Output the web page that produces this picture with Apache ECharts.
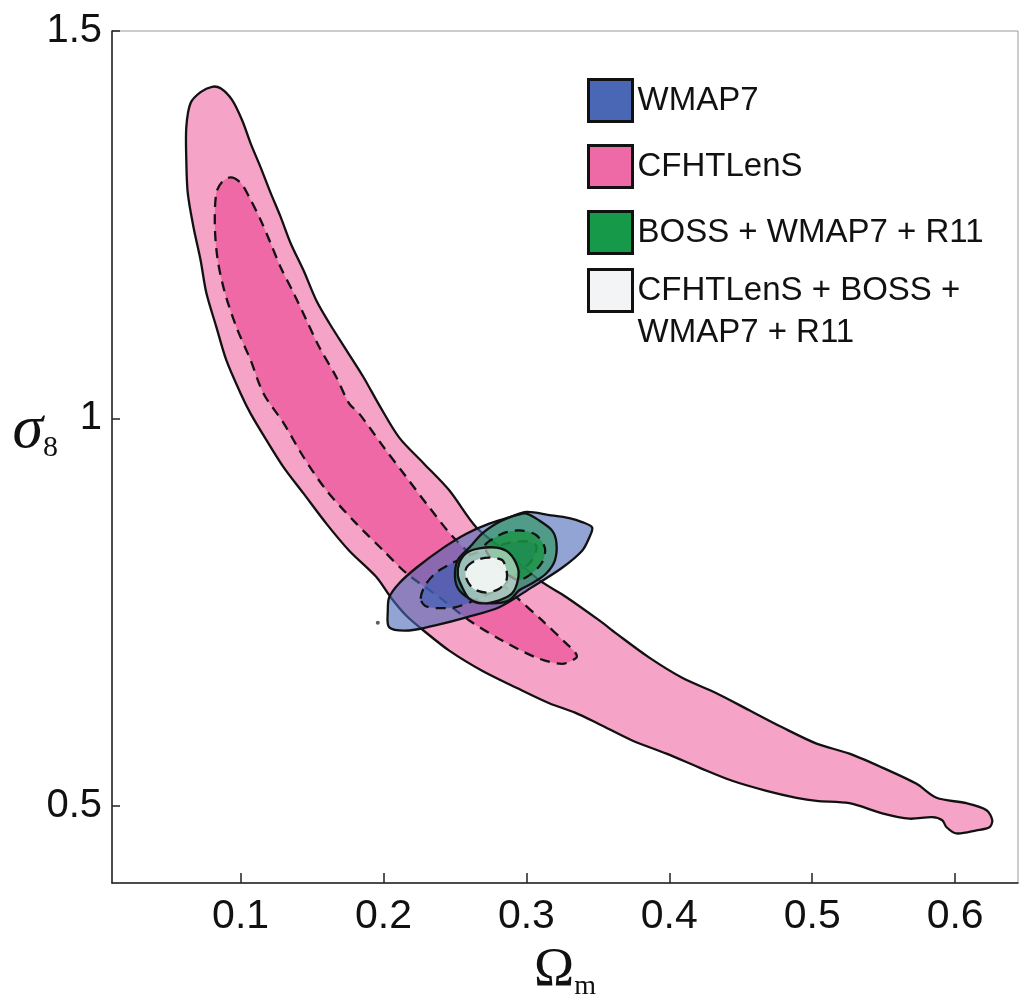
<!DOCTYPE html>
<html>
<head>
<meta charset="utf-8">
<script src="https://cdn.jsdelivr.net/npm/echarts@6/dist/echarts.min.js"></script>
<style>
  html, body { margin: 0; padding: 0; background: #fff; }
  #main { width: 1022px; height: 1001px; }
</style>
</head>
<body>
<div id="main"></div>
<script>
// tick labels
const xTicks = [0.1, 0.2, 0.3, 0.4, 0.5, 0.6];
const yTicks = [0.5, 1, 1.5];

// contours, [Omega_m, sigma_8]
const cfhtOuter = [
  [0.080, 1.428], [0.086, 1.426], [0.094, 1.411], [0.101, 1.385], [0.107, 1.355], [0.114, 1.324],
  [0.121, 1.291], [0.128, 1.260], [0.135, 1.226], [0.144, 1.191], [0.153, 1.152], [0.162, 1.123],
  [0.174, 1.088], [0.186, 1.053], [0.197, 1.017], [0.211, 0.975], [0.228, 0.942], [0.246, 0.907],
  [0.265, 0.859], [0.287, 0.826], [0.309, 0.791], [0.328, 0.769], [0.351, 0.739], [0.363, 0.722],
  [0.386, 0.691], [0.409, 0.665], [0.433, 0.645], [0.456, 0.623], [0.479, 0.601], [0.503, 0.580],
  [0.526, 0.567], [0.549, 0.549], [0.573, 0.528], [0.587, 0.510], [0.608, 0.503], [0.622, 0.494],
  [0.626, 0.481], [0.624, 0.472], [0.615, 0.468], [0.601, 0.464], [0.594, 0.472], [0.591, 0.481],
  [0.584, 0.485], [0.568, 0.483], [0.549, 0.490], [0.526, 0.503], [0.503, 0.506], [0.489, 0.510],
  [0.468, 0.519], [0.444, 0.532], [0.421, 0.549], [0.398, 0.567], [0.374, 0.584], [0.351, 0.605],
  [0.334, 0.620], [0.316, 0.632], [0.293, 0.652], [0.269, 0.674], [0.246, 0.700], [0.228, 0.726],
  [0.216, 0.745], [0.205, 0.769], [0.195, 0.795], [0.176, 0.829], [0.160, 0.864], [0.144, 0.903],
  [0.130, 0.937], [0.118, 0.972], [0.107, 1.006], [0.100, 1.032], [0.090, 1.075], [0.083, 1.118],
  [0.076, 1.162], [0.072, 1.204], [0.067, 1.247], [0.063, 1.291], [0.062, 1.333], [0.062, 1.376],
  [0.065, 1.407], [0.072, 1.421]
];
const cfhtInner = [
  [0.093, 1.311], [0.100, 1.304], [0.107, 1.282], [0.114, 1.256], [0.121, 1.226], [0.128, 1.195],
  [0.137, 1.162], [0.146, 1.127], [0.155, 1.092], [0.167, 1.053], [0.176, 1.019], [0.183, 1.006],
  [0.200, 0.963], [0.216, 0.924], [0.232, 0.885], [0.249, 0.846], [0.271, 0.807], [0.293, 0.769],
  [0.311, 0.739], [0.328, 0.709], [0.334, 0.698], [0.335, 0.691], [0.325, 0.683], [0.307, 0.691],
  [0.283, 0.713], [0.260, 0.739], [0.239, 0.769], [0.216, 0.800], [0.200, 0.829], [0.181, 0.864],
  [0.160, 0.907], [0.144, 0.950], [0.130, 0.994], [0.116, 1.032], [0.107, 1.075], [0.097, 1.118],
  [0.089, 1.162], [0.084, 1.204], [0.082, 1.247], [0.083, 1.291], [0.087, 1.305]
];
const wmapOuter = [
  [0.203, 0.752], [0.204, 0.730], [0.218, 0.726], [0.237, 0.733], [0.258, 0.743], [0.281, 0.756],
  [0.304, 0.782], [0.325, 0.807], [0.339, 0.829], [0.344, 0.846], [0.346, 0.859], [0.339, 0.866],
  [0.330, 0.871], [0.316, 0.875], [0.300, 0.879], [0.288, 0.872], [0.274, 0.864], [0.258, 0.851],
  [0.242, 0.833], [0.223, 0.807], [0.211, 0.787], [0.204, 0.769]
];
const wmapInner = [
  [0.226, 0.767], [0.229, 0.784], [0.237, 0.801], [0.248, 0.813], [0.260, 0.823], [0.274, 0.832],
  [0.288, 0.839], [0.301, 0.841], [0.307, 0.835], [0.304, 0.817], [0.292, 0.797], [0.278, 0.778],
  [0.264, 0.765], [0.250, 0.756], [0.237, 0.755], [0.229, 0.758]
];
const bossOuter = [
  [0.293, 0.875], [0.300, 0.877], [0.309, 0.868], [0.318, 0.855], [0.321, 0.839], [0.320, 0.817],
  [0.314, 0.800], [0.304, 0.787], [0.295, 0.778], [0.288, 0.765], [0.276, 0.761], [0.263, 0.765],
  [0.253, 0.778], [0.250, 0.795], [0.252, 0.817], [0.260, 0.833], [0.269, 0.851], [0.279, 0.864],
  [0.288, 0.872]
];
const bossInner = [
  [0.271, 0.836], [0.278, 0.846], [0.286, 0.853], [0.297, 0.855], [0.307, 0.849], [0.313, 0.832],
  [0.311, 0.814], [0.304, 0.800], [0.295, 0.791], [0.288, 0.797], [0.281, 0.810], [0.274, 0.822]
];
const allOuter = [
  [0.253, 0.813], [0.258, 0.826], [0.267, 0.832], [0.279, 0.833], [0.288, 0.826], [0.294, 0.807],
  [0.294, 0.791], [0.290, 0.774], [0.281, 0.765], [0.269, 0.761], [0.260, 0.767], [0.255, 0.782],
  [0.252, 0.797]
];
const allInner = [
  [0.258, 0.807], [0.265, 0.817], [0.274, 0.820], [0.283, 0.817], [0.286, 0.804], [0.286, 0.791],
  [0.281, 0.780], [0.272, 0.775], [0.263, 0.780], [0.258, 0.793]
];
const wmapSpeck = [[0.196, 0.736]];

const names = ['WMAP7', 'CFHTLenS', 'BOSS + WMAP7 + R11', 'CFHTLenS + BOSS + WMAP7 + R11'];
const legendColors = ['#4a67b5', '#ee6aa7', '#17994a', '#f2f4f6'];

function contour(name, pts, fill, dashed) {
  return {
    type: 'custom',
    name: name,
    data: pts,
    encode: { x: 0, y: 1 },
    silent: true,
    itemStyle: { color: fill },
    renderItem: function (params, api) {
      if (params.dataIndex !== 0) return null;
      return {
        type: 'polygon',
        shape: { points: pts.map(function (p) { return api.coord(p); }), smooth: 0.3 },
        style: { fill: fill, stroke: '#111', lineWidth: 2.3, lineDash: dashed ? [10, 7] : null }
      };
    }
  };
}

const legendFont = { fontFamily: 'Liberation Sans', fontSize: 33, lineHeight: 42, color: '#111' };

const chart = echarts.init(document.getElementById('main'));
chart.setOption({
  animation: false,
  grid: {
    left: 112, right: 4, top: 31, bottom: 118, containLabel: false, outerBoundsMode: 'none',
    show: true, borderColor: '#999', borderWidth: 1
  },
  xAxis: {
    type: 'value', min: 0.01, max: 0.644,
    name: '{o|Ω}{m|m}', nameLocation: 'middle', nameGap: 58, nameMoveOverlap: false,
    nameTextStyle: {
      rich: {
        o: { fontFamily: 'Liberation Serif', fontSize: 54, lineHeight: 60, color: '#111' },
        m: { fontFamily: 'Liberation Serif', fontSize: 28, lineHeight: 20, verticalAlign: 'bottom', color: '#111' }
      }
    },
    axisLine: { onZero: false, lineStyle: { color: '#222', width: 1.5 } },
    axisTick: { inside: true, length: 10, customValues: xTicks, lineStyle: { color: '#222', width: 1.5 } },
    axisLabel: { customValues: xTicks, margin: 13, fontFamily: 'Liberation Sans', fontSize: 41, color: '#111' },
    splitLine: { show: false }
  },
  yAxis: {
    type: 'value', min: 0.4, max: 1.5,
    name: '{s|σ}{n|8}', nameLocation: 'middle', nameRotate: 0, nameGap: 54, nameMoveOverlap: false,
    nameTextStyle: {
      padding: [0, 0, 52, 0],
      rich: {
        s: { fontFamily: 'Liberation Serif', fontStyle: 'italic', fontSize: 62, lineHeight: 64, color: '#111' },
        n: { fontFamily: 'Liberation Serif', fontSize: 30, lineHeight: 22, verticalAlign: 'bottom', color: '#111' }
      }
    },
    axisLine: { onZero: false, lineStyle: { color: '#222', width: 1.5 } },
    axisTick: { inside: true, length: 8, customValues: yTicks, lineStyle: { color: '#222', width: 1.5 } },
    axisLabel: { customValues: yTicks, margin: 10, fontFamily: 'Liberation Sans', fontSize: 40, color: '#111' },
    splitLine: { show: false }
  },
  legend: [
    {
      data: names.slice(0, 3).map(function (n, i) {
        return { name: n, itemStyle: { color: legendColors[i], borderColor: '#111', borderWidth: 3 } };
      }),
      orient: 'vertical', left: 587, top: 78, padding: 0, itemGap: 21,
      itemWidth: 44, itemHeight: 42, icon: 'rect', selectedMode: false,
      textStyle: legendFont
    },
    {
      data: [{ name: names[3], itemStyle: { color: legendColors[3], borderColor: '#111', borderWidth: 3 } }],
      formatter: function () { return '{a| }\n{a|CFHTLenS + BOSS +}\n{a|WMAP7 + R11}'; },
      orient: 'vertical', left: 587, top: 232, padding: 0,
      itemWidth: 44, itemHeight: 42, icon: 'rect', selectedMode: false,
      textStyle: { color: '#111', rich: { a: legendFont } }
    }
  ],
  series: [
    contour(names[1], cfhtOuter, '#f5a3c7', false),
    contour(names[1], cfhtInner, '#ef69a7', true),
    contour(names[0], wmapOuter, 'rgba(74,103,181,0.6)', false),
    contour(names[0], wmapInner, 'rgba(60,92,178,0.65)', true),
    contour(names[2], bossOuter, 'rgba(30,150,75,0.55)', false),
    contour(names[2], bossInner, 'rgba(20,145,60,0.7)', true),
    contour(names[3], allOuter, 'rgba(240,246,240,0.55)', false),
    contour(names[3], allInner, 'rgba(245,248,246,0.9)', true),
    {
      type: 'scatter', name: 'speck', data: wmapSpeck, symbolSize: 4, silent: true,
      itemStyle: { color: '#333' }
    }
  ]
});
</script>
</body>
</html>
